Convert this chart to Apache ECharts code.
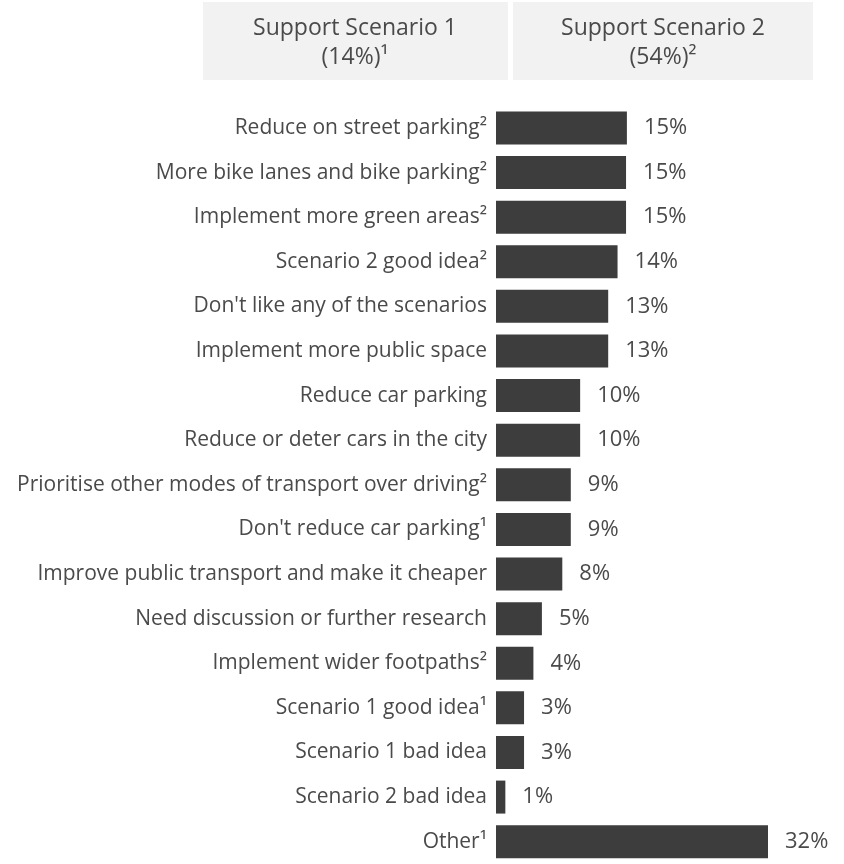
<!DOCTYPE html>
<html>
<head>
<meta charset="utf-8">
<script src="https://cdn.jsdelivr.net/npm/echarts@6/dist/echarts.min.js"></script>
<style>
html,body{margin:0;padding:0;background:#fff;}
#chart{width:844px;height:864px;}
</style>
</head>
<body>
<div id="chart"></div>
<script>
const categories = [
  "Reduce on street parking²",
  "More bike lanes and bike parking²",
  "Implement more green areas²",
  "Scenario 2 good idea²",
  "Don't like any of the scenarios",
  "Implement more public space",
  "Reduce car parking",
  "Reduce or deter cars in the city",
  "Prioritise other modes of transport over driving²",
  "Don't reduce car parking¹",
  "Improve public transport and make it cheaper",
  "Need discussion or further research",
  "Implement wider footpaths²",
  "Scenario 1 good idea¹",
  "Scenario 1 bad idea",
  "Scenario 2 bad idea",
  "Other¹"
];
const values = [15.4, 15.3, 15.3, 14.3, 13.2, 13.2, 9.9, 9.9, 8.8, 8.8, 7.8, 5.4, 4.4, 3.3, 3.3, 1.1, 32];
const valueLabels = ["15%", "15%", "15%", "14%", "13%", "13%", "10%", "10%", "9%", "9%", "8%", "5%", "4%", "3%", "3%", "1%", "32%"];
const headers = ["Support Scenario 1\n(14%)¹", "Support Scenario 2\n(54%)²"];

const FONT = "Open Sans";
const TXT = "#4a4a4a";
const chart = echarts.init(document.getElementById('chart'));
chart.setOption({
  animation: false,
  backgroundColor: '#ffffff',
  textStyle: { fontFamily: FONT },
  graphic: [
    { type: 'rect', shape: { x: 203, y: 2, width: 305, height: 78 }, style: { fill: '#f2f2f2' } },
    { type: 'rect', shape: { x: 513, y: 2, width: 300, height: 78 }, style: { fill: '#f2f2f2' } },
    { type: 'text', x: 355, y: 43, style: { text: headers[0], fontFamily: FONT, fontSize: 23, lineHeight: 29, fill: TXT, align: 'center', verticalAlign: 'middle' } },
    { type: 'text', x: 663, y: 43, style: { text: headers[1], fontFamily: FONT, fontSize: 23, lineHeight: 29, fill: TXT, align: 'center', verticalAlign: 'middle' } }
  ],
  grid: { left: 496, top: 105.6, width: 340, height: 760.75, containLabel: false },
  xAxis: { type: 'value', min: 0, max: 40, show: false },
  yAxis: {
    type: 'category', data: categories, inverse: true,
    axisLine: { show: false }, axisTick: { show: false },
    axisLabel: { margin: 9, fontSize: 21, color: TXT, fontFamily: FONT }
  },
  series: [{
    type: 'bar', data: values, barWidth: 33,
    itemStyle: { color: '#3d3d3d' },
    label: {
      show: true, position: 'right', distance: 17, fontSize: 22, color: TXT, fontFamily: FONT,
      formatter: p => valueLabels[p.dataIndex]
    }
  }]
});
</script>
</body>
</html>
